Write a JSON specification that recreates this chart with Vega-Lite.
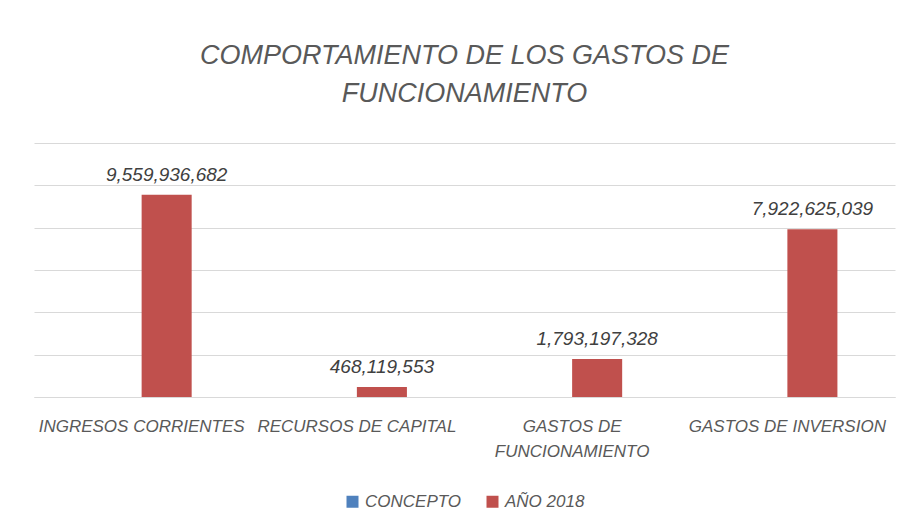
{
  "$schema": "https://vega.github.io/schema/vega-lite/v6.json",
  "autosize": "none",
  "width": 861,
  "height": 254,
  "padding": {"left": 34, "top": 143, "right": 10, "bottom": 130},
  "background": "white",
  "title": {
    "text": ["COMPORTAMIENTO DE LOS GASTOS DE", "FUNCIONAMIENTO"],
    "anchor": "middle",
    "font": "Liberation Sans",
    "fontSize": 27,
    "fontStyle": "italic",
    "fontWeight": "normal",
    "color": "#595959",
    "lineHeight": 38,
    "offset": 35
  },
  "data": {
    "values": [
      {"concepto": "INGRESOS CORRIENTES", "serie": "CONCEPTO", "valor": 0},
      {"concepto": "RECURSOS DE CAPITAL", "serie": "CONCEPTO", "valor": 0},
      {"concepto": "GASTOS DE FUNCIONAMIENTO", "serie": "CONCEPTO", "valor": 0},
      {"concepto": "GASTOS DE INVERSION", "serie": "CONCEPTO", "valor": 0},
      {"concepto": "INGRESOS CORRIENTES", "serie": "AÑO 2018", "valor": 9559936682},
      {"concepto": "RECURSOS DE CAPITAL", "serie": "AÑO 2018", "valor": 468119553},
      {"concepto": "GASTOS DE FUNCIONAMIENTO", "serie": "AÑO 2018", "valor": 1793197328},
      {"concepto": "GASTOS DE INVERSION", "serie": "AÑO 2018", "valor": 7922625039}
    ]
  },
  "encoding": {
    "x": {
      "field": "concepto",
      "type": "nominal",
      "sort": ["INGRESOS CORRIENTES", "RECURSOS DE CAPITAL", "GASTOS DE FUNCIONAMIENTO", "GASTOS DE INVERSION"],
      "scale": {"paddingInner": 0.535, "paddingOuter": 0.2675},
      "axis": {
        "title": null,
        "labelAngle": 0,
        "ticks": false,
        "domainColor": "#D9D9D9",
        "domainWidth": 1,
        "labelPadding": 21,
        "labelFont": "Liberation Sans",
        "labelFontSize": 17,
        "labelFontStyle": "italic",
        "labelColor": "#595959",
        "labelLineHeight": 25,
        "labelLimit": 300,
        "labelExpr": "datum.value == 'GASTOS DE FUNCIONAMIENTO' ? ['GASTOS DE', 'FUNCIONAMIENTO'] : datum.value"
      }
    },
    "xOffset": {
      "field": "serie",
      "type": "nominal",
      "sort": ["CONCEPTO", "AÑO 2018"],
      "scale": {"paddingInner": 0, "paddingOuter": 0}
    },
    "y": {
      "field": "valor",
      "type": "quantitative",
      "scale": {"domain": [0, 12000000000], "nice": false},
      "axis": {
        "title": null,
        "labels": false,
        "ticks": false,
        "domain": false,
        "values": [0, 2000000000, 4000000000, 6000000000, 8000000000, 10000000000, 12000000000],
        "gridColor": "#D9D9D9",
        "gridWidth": 1
      }
    }
  },
  "layer": [
    {
      "mark": {"type": "bar"},
      "encoding": {
        "color": {
          "field": "serie",
          "type": "nominal",
          "scale": {"domain": ["CONCEPTO", "AÑO 2018"], "range": ["#4F81BD", "#C0504D"]},
          "legend": {
            "title": null,
            "orient": "none",
            "direction": "horizontal",
            "legendX": 310,
            "legendY": 350,
            "symbolType": "square",
            "symbolSize": 144,
            "symbolStrokeWidth": 0,
            "labelFont": "Liberation Sans",
            "labelFontSize": 17,
            "labelFontStyle": "italic",
            "labelColor": "#595959",
            "labelOffset": 4,
            "columnPadding": 22
          }
        }
      }
    },
    {
      "transform": [{"filter": "datum.serie == 'AÑO 2018'"}],
      "mark": {
        "type": "text",
        "baseline": "alphabetic",
        "dy": -14,
        "font": "Liberation Sans",
        "fontSize": 19,
        "fontStyle": "italic",
        "color": "#404040"
      },
      "encoding": {
        "text": {"field": "valor", "type": "quantitative", "format": ",.0f"}
      }
    }
  ],
  "config": {
    "view": {"stroke": null}
  }
}
